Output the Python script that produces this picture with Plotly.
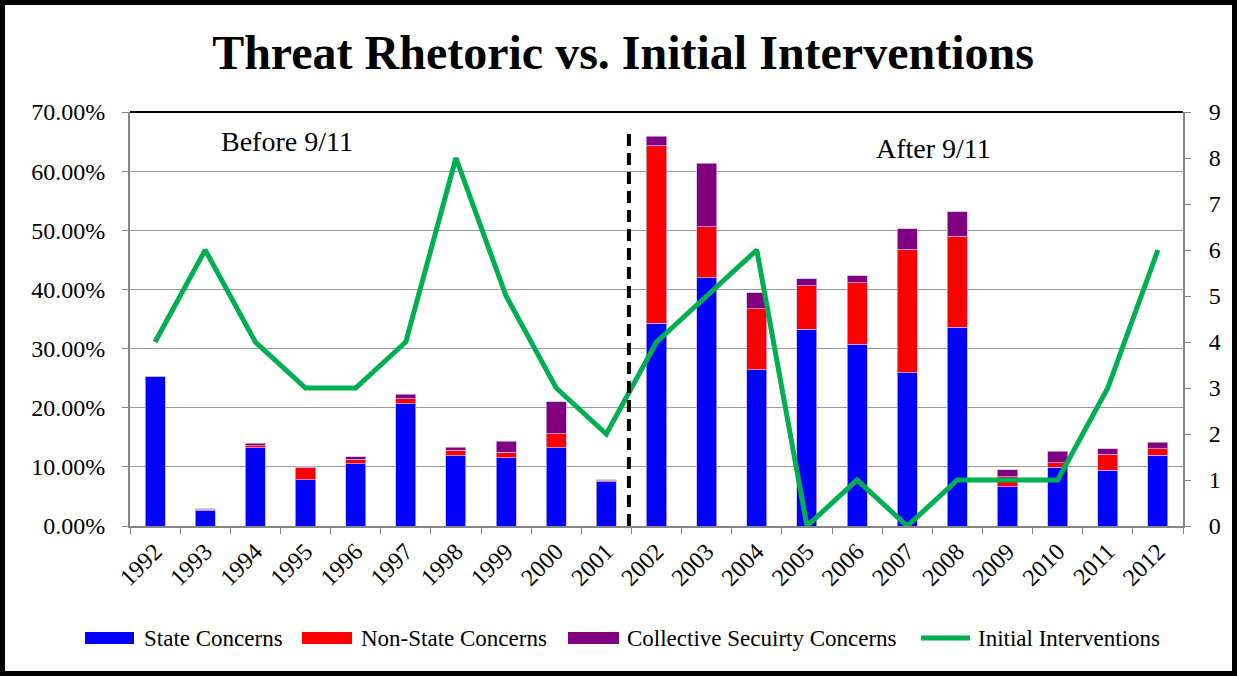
import plotly.graph_objects as go

# ---- data -------------------------------------------------------------
years = [str(y) for y in range(1992, 2013)]

# share of threat rhetoric (percent) by category
state_concerns = [25.3, 2.7, 13.2, 7.8, 10.5, 20.7, 11.9, 11.5, 13.2, 7.5,
                  34.3, 42.0, 26.4, 33.3, 30.7, 25.9, 33.6, 6.6, 9.9, 9.4, 12.0]
non_state_concerns = [0.0, 0.1, 0.4, 2.1, 0.8, 0.8, 0.9, 1.0, 2.4, 0.2,
                      30.0, 8.6, 10.3, 7.3, 10.4, 20.9, 15.4, 1.7, 0.8, 2.7, 1.1]
collective_concerns = [0.0, 0.1, 0.4, 0.1, 0.4, 0.8, 0.5, 1.8, 5.4, 0.1,
                       1.6, 10.7, 2.7, 1.2, 1.2, 3.5, 4.1, 1.2, 1.9, 1.0, 1.1]

# number of initial interventions per year
initial_interventions = [4, 6, 4, 3, 3, 4, 8, 5, 3, 2,
                         4, 5, 6, 0, 1, 0, 1, 1, 1, 3, 6]

legend_names = ["State Concerns", "Non-State Concerns",
                "Collective Secuirty Concerns", "Initial Interventions"]
colors = ["#0000FF", "#FF0000", "#800080", "#00B050"]

# ---- layout geometry (pixels) ------------------------------------------
W, H = 1237, 676
L, R, T, B = 130, 1183, 112, 526
PW, PH = R - L, B - T


def px(x):
    return (x - L) / PW


def py(y):
    return (B - y) / PH


FONT = "Liberation Serif, Times New Roman, serif"
GRID = "#9a9a9a"
AXIS = "#868686"
edge = dict(color="rgba(200,180,235,0.9)", width=0.8)

fig = go.Figure()
for vals, name, col in zip([state_concerns, non_state_concerns, collective_concerns],
                           legend_names[:3], colors[:3]):
    fig.add_trace(go.Bar(x=years, y=[v / 100 for v in vals], name=name,
                         marker=dict(color=col, line=edge), showlegend=False))

fig.add_trace(go.Scatter(x=years, y=initial_interventions, name=legend_names[3],
                         yaxis="y2", mode="lines", showlegend=False,
                         line=dict(color=colors[3], width=5)))

shapes = [
    # separator between the two periods
    dict(type="line", xref="x", yref="y", x0=9.45, x1=9.45, y0=0, y1=0.664,
         line=dict(color="black", width=4, dash="12px,7px"), layer="above"),
    # dark top edge of the plot area
    dict(type="line", xref="paper", yref="paper", x0=0, x1=1, y0=1, y1=1,
         line=dict(color="black", width=2)),
    # outer frame
    dict(type="rect", xref="paper", yref="paper",
         x0=px(2.5), x1=px(W - 2.5), y0=py(H - 2.5), y1=py(2.5),
         line=dict(color="black", width=5)),
]

annotations = [
    dict(text="Before 9/11", x=px(287), y=py(141), xref="paper", yref="paper",
         xanchor="center", yanchor="middle",
         showarrow=False, font=dict(family=FONT, size=28, color="black")),
    dict(text="After 9/11", x=px(933), y=py(149), xref="paper", yref="paper",
         xanchor="center", yanchor="middle",
         showarrow=False, font=dict(family=FONT, size=28, color="black")),
]

# legend row
leg_y = 638
swatches = [(85, 134), (302, 352), (568, 619), (921, 970)]
text_x = [142, 359, 625, 976]
for i, ((a, b), tx) in enumerate(zip(swatches, text_x)):
    if i < 3:
        shapes.append(dict(type="rect", xref="paper", yref="paper",
                           x0=px(a), x1=px(b), y0=py(leg_y + 6), y1=py(leg_y - 6),
                           fillcolor=colors[i], line=dict(width=0)))
    else:
        shapes.append(dict(type="line", xref="paper", yref="paper",
                           x0=px(a), x1=px(b), y0=py(leg_y), y1=py(leg_y),
                           line=dict(color=colors[i], width=5)))
    annotations.append(dict(text=legend_names[i], x=px(tx), y=py(leg_y),
                            xref="paper", yref="paper", xanchor="left",
                            yanchor="middle", showarrow=False,
                            font=dict(family=FONT, size=23, color="black")))

fig.update_layout(
    width=W, height=H,
    margin=dict(l=L, r=W - R, t=T, b=H - B, pad=0),
    paper_bgcolor="white", plot_bgcolor="white",
    barmode="stack", bargap=0.6,
    font=dict(family=FONT, color="black"),
    title=dict(text="<b>Threat Rhetoric vs. Initial Interventions</b>",
               x=623 / W, xref="container", xanchor="center",
               y=1 - 52 / H, yanchor="middle",
               font=dict(family=FONT, size=48, color="black")),
    xaxis=dict(type="category", tickangle=-45, ticks="outside", ticklen=6,
               tickcolor=AXIS, tickson="boundaries", showline=True,
               linecolor=AXIS, linewidth=2, showgrid=False,
               tickfont=dict(family=FONT, size=24, color="black")),
    yaxis=dict(range=[0, 0.7], dtick=0.1, tickformat=".2%", ticks="outside",
               ticklen=6, tickcolor=AXIS, showline=True, linecolor=AXIS,
               linewidth=2, showgrid=True, gridcolor=GRID, gridwidth=1.3,
               zeroline=False, ticklabelstandoff=12,
               tickfont=dict(family=FONT, size=24, color="black")),
    yaxis2=dict(range=[0, 9], dtick=1, overlaying="y", side="right",
                ticks="outside", ticklen=6, tickcolor=AXIS, showline=True,
                linecolor=AXIS, linewidth=2, showgrid=False, zeroline=False,
                ticklabelstandoff=13,
                tickfont=dict(family=FONT, size=24, color="black")),
    shapes=shapes,
    annotations=annotations,
    showlegend=False,
)

fig.write_html("out.html")
